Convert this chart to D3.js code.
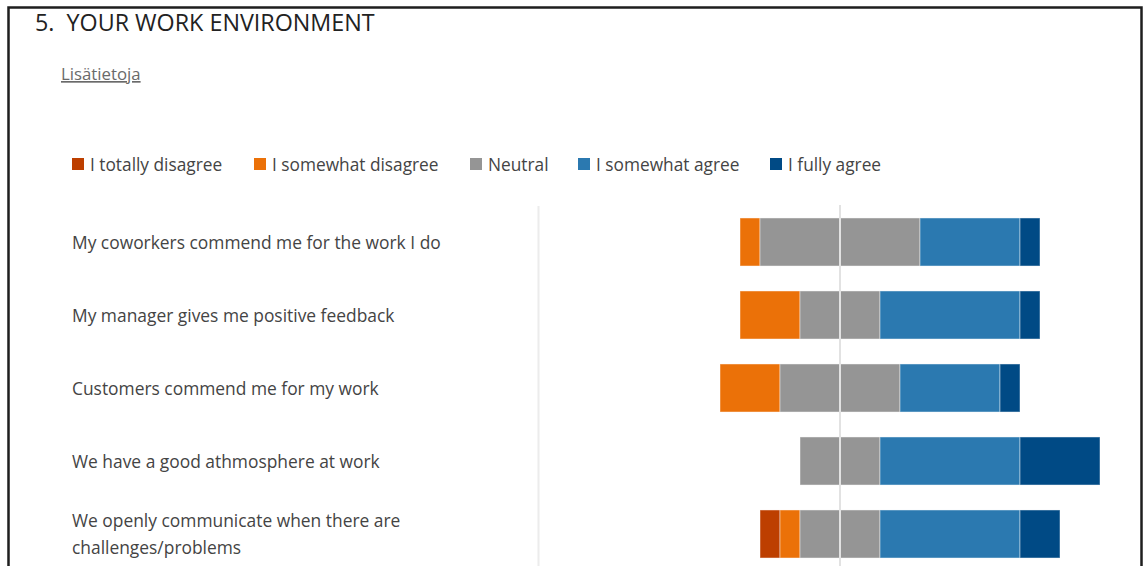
<!DOCTYPE html>
<html>
<head>
<meta charset="utf-8">
<script src="https://cdn.jsdelivr.net/npm/d3@7"></script>
<style>
  html, body { margin: 0; padding: 0; background: #fff; }
  svg { display: block; }
</style>
</head>
<body>
<script>
// Survey section: counts of answers per statement
const statements = [
  "My coworkers commend me for the work I do",
  "My manager gives me positive feedback",
  "Customers commend me for my work",
  "We have a good athmosphere at work",
  "We openly communicate when there are challenges/problems"
];
const answerLabels = ["I totally disagree", "I somewhat disagree", "Neutral", "I somewhat agree", "I fully agree"];
const totallyDisagree = [0, 0, 0, 0, 1];
const somewhatDisagree = [1, 3, 3, 0, 1];
const neutral = [8, 4, 6, 4, 4];
const somewhatAgree = [5, 7, 5, 7, 7];
const fullyAgree = [1, 1, 1, 4, 2];
const colors = ["#BD3F00", "#EB7108", "#959595", "#2B79B0", "#004A85"];

const W = 1144, H = 566;
const svg = d3.select("body").append("svg").attr("width", W).attr("height", H);
const FONT = "'Open Sans', 'Noto Sans', sans-serif";

// outer frame
svg.append("rect").attr("x", 8.5).attr("y", 7.5).attr("width", 1133).attr("height", 580)
  .attr("fill", "none").attr("stroke", "#1e1e1e").attr("stroke-width", 2.5);

svg.append("text").attr("x", 35).attr("y", 31)
  .attr("font-family", FONT).attr("font-size", 23.3).attr("fill", "#222")
  .attr("xml:space", "preserve").style("white-space", "pre")
  .text("5.  YOUR WORK ENVIRONMENT");

svg.append("text").attr("x", 61).attr("y", 80)
  .attr("font-family", FONT).attr("font-size", 16.8).attr("fill", "#6a6a6a")
  .attr("text-decoration", "underline").text("Lisätietoja");

// legend
const legendX = [72, 254, 470, 578, 770];
const legend = svg.append("g");
answerLabels.forEach((lab, i) => {
  legend.append("rect").attr("x", legendX[i]).attr("y", 158).attr("width", 12).attr("height", 12)
    .attr("fill", colors[i]);
  legend.append("text").attr("x", legendX[i] + 18).attr("y", 170.5)
    .attr("font-family", FONT).attr("font-size", 17.3).attr("fill", "#444").text(lab);
});

// scales
const x = d3.scaleLinear().domain([-10, 15]).range([640, 1140]);
const y = d3.scaleBand().domain(statements).range([205.5, 570.5])
  .paddingInner(0.342).paddingOuter(0.171);

// separator between labels and bars
svg.append("line").attr("x1", 538.5).attr("x2", 538.5).attr("y1", 206).attr("y2", H)
  .attr("stroke", "#ececec").attr("stroke-width", 2);

// stacked rows, neutral centred on zero
const rows = statements.map((s, i) => {
  const vals = [totallyDisagree[i], somewhatDisagree[i], neutral[i], somewhatAgree[i], fullyAgree[i]];
  let start = -(vals[0] + vals[1] + vals[2] / 2);
  return vals.map((v, k) => {
    const seg = { s, k, x0: start, x1: start + v };
    start += v;
    return seg;
  }).filter(d => d.x1 > d.x0);
});

svg.append("g").selectAll("rect").data(rows.flat()).join("rect")
  .attr("x", d => x(d.x0)).attr("width", d => x(d.x1) - x(d.x0))
  .attr("y", d => y(d.s)).attr("height", y.bandwidth())
  .attr("fill", d => colors[d.k])
  .attr("stroke", "rgba(255,255,255,0.45)").attr("stroke-width", 1);

// zero line
svg.append("line").attr("x1", x(0)).attr("x2", x(0)).attr("y1", 205).attr("y2", H)
  .attr("stroke", "#e2e2e2").attr("stroke-width", 2);

// row labels
const labelG = svg.append("g");
statements.forEach(s => {
  const cy = y(s) + y.bandwidth() / 2;
  const lines = s === statements[4] ? ["We openly communicate when there are", "challenges/problems"] : [s];
  const lh = 26.5;
  lines.forEach((ln, j) => {
    labelG.append("text").attr("x", 72)
      .attr("y", cy + 6.5 + (j - (lines.length - 1) / 2) * lh)
      .attr("font-family", FONT).attr("font-size", 17.4).attr("fill", "#444").text(ln);
  });
});
</script>
</body>
</html>
